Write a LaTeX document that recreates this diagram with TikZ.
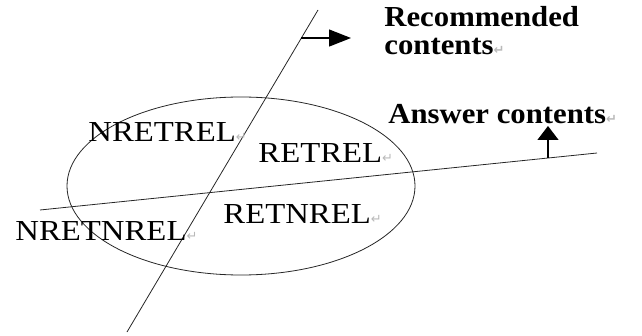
\documentclass[tikz,border=0pt]{standalone}
\usepackage{fontspec}
\setmainfont{Liberation Serif}
\newfontfamily\regfont[FakeStretch=1.13]{Liberation Serif}
\newfontfamily\headfont[FakeStretch=1.06]{Liberation Serif}
\newfontfamily\markfont{DejaVu Sans}
\usetikzlibrary{arrows.meta,calc}
\newcommand{\pmark}{{\markfont\fontsize{13}{13}\selectfont\color{gray!55}↵}}
\begin{document}
\begin{tikzpicture}[x=1pt,y=1pt,line width=0.8pt]
\useasboundingbox (0,0) rectangle (642,335);
\tikzset{reg/.style={anchor=base west, inner sep=0pt, font=\regfont\fontsize{29}{30}\selectfont},
  head/.style={anchor=base west, inner sep=0pt, font=\headfont\bfseries\fontsize{29}{30}\selectfont}}
% the set and the two cuts
\draw[black!85] (241,149) ellipse (174 and 89);
\coordinate (rt0) at (318,325);
\coordinate (rt1) at (127,3);
\coordinate (ans0) at (40,125);
\coordinate (ans1) at (597,182);
\draw[black!85] (rt0) -- (rt1);
\draw[black!85] (ans0) -- (ans1);
% direction marks
\coordinate (rtm) at ($(rt0)!0.087!(rt1)$);
\coordinate (rtx) at (351,297);
\draw[line width=1.3pt, -{Triangle[length=22pt,width=17pt]}] (rtm) -- (rtx |- rtm);
\coordinate (ansm) at ($(ans0)!0.912!(ans1)$);
\coordinate (ansx) at (548,209);
\draw[line width=1.3pt, -{Triangle[length=14pt,width=21pt]}] (ansm) -- (ansm |- ansx);
% labels
\node[head] (rec0) at (384,308) {Recommended};
\node[head] (rec1) at (384,280) {contents\pmark};
\node[head] (ansl) at (388,211) {Answer contents\pmark};
\node[reg] (reg0) at (88,193) {NRETREL\pmark};
\node[reg] (reg1) at (258,172) {RETREL\pmark};
\node[reg] (reg2) at (223,112) {RETNREL\pmark};
\node[reg] (reg3) at (15,95) {NRETNREL\pmark};
\end{tikzpicture}
\end{document}
